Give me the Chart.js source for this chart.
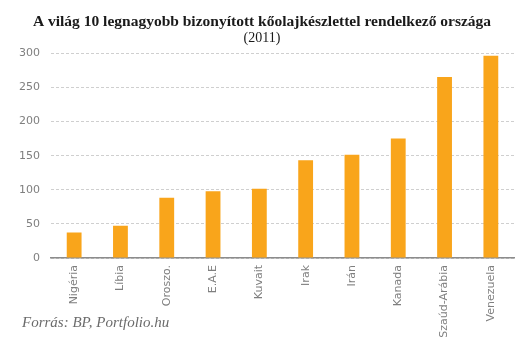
<!DOCTYPE html>
<html>
<head>
<meta charset="utf-8">
<script src="https://cdn.jsdelivr.net/npm/chart.js@4"></script>
<style>
  html, body { margin: 0; padding: 0; background: #fff; }
  #wrap { position: relative; width: 529px; height: 340px; }
  #source {
    position: absolute; left: 22px; top: 314px;
    font: italic 15px 'Liberation Serif', serif; color: #6b6b6b;
    white-space: nowrap;
  }
</style>
</head>
<body>
<div id="wrap">
  <canvas id="chart" width="529" height="340"></canvas>
  <div id="source">Forrás: BP, Portfolio.hu</div>
</div>
<script>
  // Top 10 proven oil reserves (billion barrels), 2011
  const countries = ['Nigéria', 'Líbia', 'Oroszo.', 'E.A.E', 'Kuvait', 'Irak', 'Irán', 'Kanada', 'Szaúd-Arábia', 'Venezuela'];
  const reserves  = [37.2, 47.1, 88.2, 97.8, 101.5, 143.1, 151.2, 175.2, 265.4, 296.5];
  const yTicks    = [0, 50, 100, 150, 200, 250, 300];

  const chartTitle    = 'A világ 10 legnagyobb bizonyított kőolajkészlettel rendelkező országa';
  const chartSubtitle = '(2011)';

  const BAR_COLOR  = '#f9a51b';
  const TICK_COLOR = '#7f7f7f';

  new Chart(document.getElementById('chart').getContext('2d'), {
    type: 'bar',
    data: {
      labels: countries,
      datasets: [{
        data: reserves,
        backgroundColor: BAR_COLOR,
        borderWidth: 0,
        categoryPercentage: 1,
        barPercentage: 0.32
      }]
    },
    options: {
      responsive: false,
      animation: false,
      layout: { padding: { left: 10, right: 15, top: 0, bottom: 0 } },
      plugins: {
        legend: { display: false },
        tooltip: { enabled: false },
        title: {
          display: true,
          text: chartTitle,
          color: '#1a1a1a',
          font: { family: "'Liberation Serif', serif", size: 15.5, weight: 'bold', lineHeight: 1 },
          padding: { top: 14, bottom: 0 }
        },
        subtitle: {
          display: true,
          text: chartSubtitle,
          color: '#1a1a1a',
          font: { family: "'Liberation Serif', serif", size: 14 },
          padding: { top: 0, bottom: 7 }
        }
      },
      scales: {
        x: {
          grid: { display: false, drawTicks: false },
          border: { display: true, color: '#8c8c8c', width: 1.5 },
          ticks: {
            color: TICK_COLOR,
            font: { family: "'DejaVu Sans', sans-serif", size: 11 },
            minRotation: 90, maxRotation: 90,
            padding: 7,
            autoSkip: false
          },
          afterFit: s => { s.height = 82; }
        },
        y: {
          min: 0, max: 300,
          afterBuildTicks: s => { s.ticks = yTicks.map(v => ({ value: v })); },
          grid: { color: '#cfcfcf', drawTicks: false },
          border: { display: false, dash: [3, 2] },
          ticks: {
            color: TICK_COLOR,
            font: { family: "'DejaVu Sans', sans-serif", size: 11 },
            padding: 11
          },
          afterFit: s => { s.width = 41; }
        }
      }
    }
  });
</script>
</body>
</html>
